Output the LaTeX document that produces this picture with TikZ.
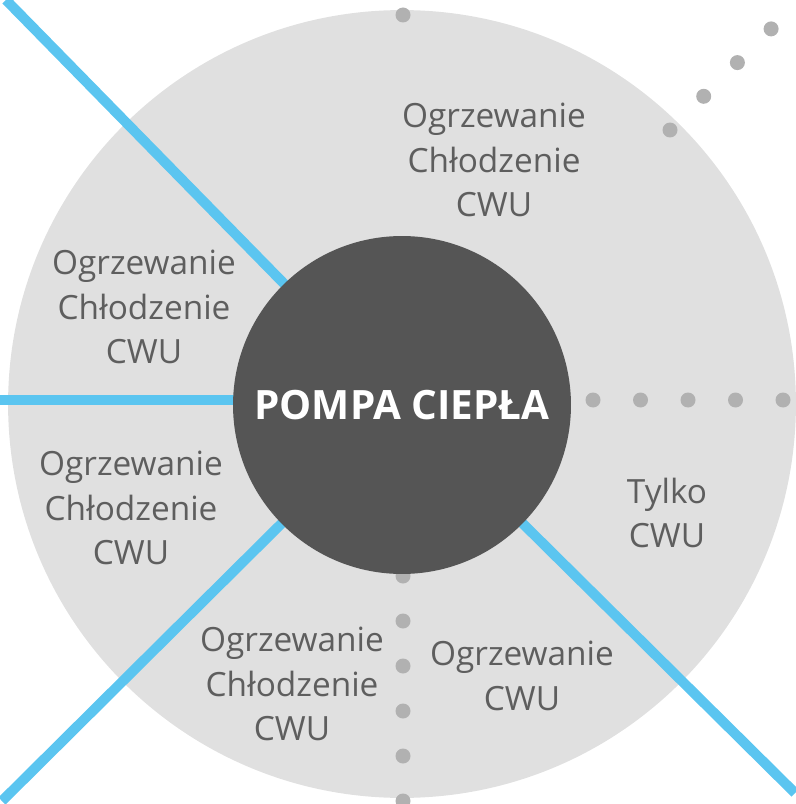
\documentclass[tikz,border=0pt]{standalone}
\usepackage{fontspec}
\setmainfont{Open Sans}
\usepackage{xcolor}
\usetikzlibrary{positioning}
\definecolor{discgray}{HTML}{E0E0E0}
\definecolor{coregray}{HTML}{555555}
\definecolor{pipeblue}{HTML}{5BC5F0}
\definecolor{dotgray}{HTML}{B1B1B1}
\definecolor{txtgray}{HTML}{5E5E5E}

\begin{document}
\begin{tikzpicture}[
  x=0.02cm, y=-0.02cm,
  disc/.style={circle,fill=discgray,minimum size=15.76cm,inner sep=0pt},
  core/.style={circle,fill=coregray,minimum size=6.76cm,inner sep=0pt,
    text=white,font=\fontsize{23}{27}\selectfont\bfseries},
  pipe/.style={pipeblue,line width=5.7pt},
  dot/.style={fill=dotgray},
  lbl/.style={align=center,text=txtgray,inner sep=0pt,
    font=\fontsize{19}{25.5}\selectfont}
]
\useasboundingbox (0,0) rectangle (795,804);
% outer disc
\node[disc] (D) at (402,404) {};
% pipe ends
\coordinate (tl) at (6,0);
\coordinate (ml) at (0,400);
\coordinate (bl) at (2,801);
\coordinate (br) at (795,793);
\coordinate (C) at (402,404);
\draw[pipe] (tl) -- (C);
\draw[pipe] (ml) -- (402,400);
\draw[pipe] (bl) -- (C);
\draw[pipe] (br) -- (C);
% dotted separators
\fill[dot] (403,15) circle[radius=0.15cm];
\foreach \i in {0,...,3}
  \fill[dot] (670+33.7*\i,130-33.7*\i) circle[radius=0.15cm];
\foreach \i in {0,...,4}
  \fill[dot] (593+47.5*\i,400) circle[radius=0.15cm];
\foreach \i in {0,...,5}
  \fill[dot] (403,576+45*\i) circle[radius=0.15cm];
% heat pump
\node[core] (P) at (402,405) {POMPA CIEPŁA};
% labels
\node[lbl] (t1) at (494,160) {Ogrzewanie\\Chłodzenie\\CWU};
\node[lbl] (t2) at (144,307) {Ogrzewanie\\Chłodzenie\\CWU};
\node[lbl] (t3) at (131,508) {Ogrzewanie\\Chłodzenie\\CWU};
\node[lbl] (t4) at (292,684) {Ogrzewanie\\Chłodzenie\\CWU};
\node[lbl] (t5) at (522,676) {Ogrzewanie\\CWU};
\node[lbl] (t6) at (667,513) {Tylko\\CWU};
\end{tikzpicture}
\end{document}
